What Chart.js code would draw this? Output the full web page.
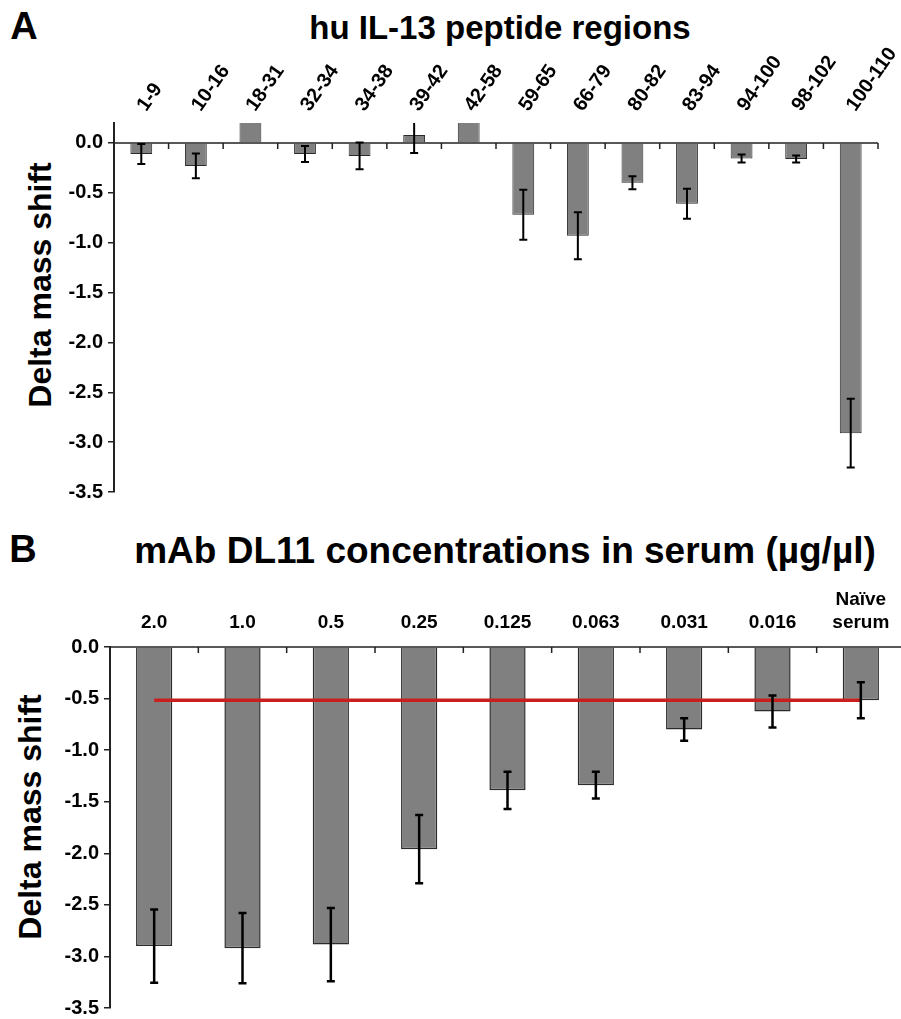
<!DOCTYPE html>
<html>
<head>
<meta charset="utf-8">
<script src="https://cdn.jsdelivr.net/npm/chart.js@4.4.1/dist/chart.umd.min.js"></script>
<style>
body { margin: 0; width: 901px; height: 1019px; overflow: hidden; background: #fff; position: relative;
       font-family: "Liberation Sans", Arial, sans-serif; }
.lbl { position: absolute; font-weight: bold; color: #000; white-space: nowrap; transform: translate(-50%, -50%); }
.rot { transform: translate(-50%, -50%) rotate(-90deg); }
canvas { position: absolute; left: 0; }
</style>
</head>
<body>
<div class="lbl" style="left:24px;top:26px;font-size:38px">A</div>
<div class="lbl" style="left:500px;top:28px;font-size:33px">hu IL-13 peptide regions</div>
<div class="lbl rot" style="left:40px;top:285px;font-size:32px">Delta mass shift</div>
<canvas id="chartA" width="901" height="466" style="top:40px"></canvas>

<div class="lbl" style="left:23px;top:549px;font-size:38px">B</div>
<div class="lbl" style="left:505px;top:551px;font-size:37px">mAb DL11 concentrations in serum (µg/µl)</div>
<div class="lbl rot" style="left:30px;top:817px;font-size:32px">Delta mass shift</div>
<canvas id="chartB" width="906" height="459" style="top:560px"></canvas>

<script>
// panel A - peptide regions
const peptideRegions = ['1-9', '10-16', '18-31', '32-34', '34-38', '39-42', '42-58',
                        '59-65', '66-79', '80-82', '83-94', '94-100', '98-102', '100-110'];
const peptideShift = [-0.11, -0.23, 0.3, -0.11, -0.13, 0.08, 0.3,
                      -0.72, -0.93, -0.40, -0.61, -0.155, -0.16, -2.91];
const peptideError = [0.10, 0.125, 0, 0.08, 0.135, 0.18, 0,
                      0.25, 0.235, 0.065, 0.15, 0.04, 0.035, 0.345];

// panel B - mAb concentrations
const concLabels = ['2.0', '1.0', '0.5', '0.25', '0.125', '0.063', '0.031', '0.016', ['Naïve', 'serum']];
const concShift = [-2.90, -2.92, -2.885, -1.96, -1.39, -1.34, -0.80, -0.626, -0.516];
const concError = [0.355, 0.34, 0.355, 0.33, 0.18, 0.13, 0.11, 0.155, 0.175];
const naiveLevel = concShift[concShift.length - 1];

const yTicks = [0, -0.5, -1.0, -1.5, -2.0, -2.5, -3.0, -3.5];

Chart.defaults.font.family = '"Liberation Sans", Arial, sans-serif';
Chart.defaults.color = '#000';

const errorBars = {
    id: 'errorBars',
    afterDatasetsDraw(chart) {
        const {ctx, chartArea} = chart;
        chart.data.datasets.forEach((ds, di) => {
            if (!ds.errors) return;
            const meta = chart.getDatasetMeta(di);
            const yScale = chart.scales[meta.yAxisID];
            ctx.save();
            ctx.beginPath();
            ctx.rect(chartArea.left, chartArea.top, chartArea.width, chartArea.height);
            ctx.clip();
            ctx.strokeStyle = '#000';
            ctx.lineWidth = ds.errorWidth;
            meta.data.forEach((bar, i) => {
                const e = ds.errors[i];
                if (!e) return;
                const v = ds.data[i];
                const yTop = yScale.getPixelForValue(v + e);
                const yBot = yScale.getPixelForValue(v - e);
                ctx.beginPath();
                ctx.moveTo(bar.x, yTop); ctx.lineTo(bar.x, yBot);
                ctx.moveTo(bar.x - 4, yTop); ctx.lineTo(bar.x + 4, yTop);
                ctx.moveTo(bar.x - 4, yBot); ctx.lineTo(bar.x + 4, yBot);
                ctx.stroke();
            });
            ctx.restore();
        });
    }
};

// x axis line drawn at zero, with small ticks between categories
const zeroAxis = {
    id: 'zeroAxis',
    afterDatasetsDraw(chart) {
        const {ctx, chartArea, scales: {x, y}} = chart;
        const y0 = y.getPixelForValue(0);
        ctx.save();
        ctx.strokeStyle = '#222';
        ctx.lineWidth = 1.5;
        ctx.beginPath();
        ctx.moveTo(chartArea.left, y0);
        ctx.lineTo(chartArea.right, y0);
        for (let i = 0; i < x.ticks.length; i++) {
            const bx = x.getPixelForValue(i + 0.5);
            ctx.moveTo(bx, y0);
            ctx.lineTo(bx, y0 + 6);
        }
        ctx.stroke();
        ctx.restore();
    }
};

function make_chart(element_id, labels, values, errors, cfg) {
    const datasets = [{
        type: 'bar',
        data: values,
        errors: errors,
        errorWidth: cfg.errorWidth,
        backgroundColor: '#808080',
        borderColor: '#2b2b2b',
        borderWidth: cfg.barBorder,
        barPercentage: cfg.barPct,
        categoryPercentage: 1,
        order: 2
    }];
    if (cfg.refLine !== undefined) {
        datasets.push({
            type: 'line',
            data: labels.map(() => cfg.refLine),
            borderColor: '#c8201f',
            borderWidth: 3.5,
            pointRadius: 0,
            fill: false,
            order: 1
        });
    }

    new Chart(document.getElementById(element_id), {
        data: {labels: labels, datasets: datasets},
        options: {
            responsive: false,
            animation: false,
            devicePixelRatio: 1,
            layout: {padding: cfg.padding},
            plugins: {legend: {display: false}, tooltip: {enabled: false}},
            scales: {
                x: {
                    position: 'top',
                    afterFit: s => { s.height = cfg.xHeight; s.paddingLeft = 0; s.paddingRight = 0; },
                    grid: {display: false, drawTicks: false},
                    border: {display: false},
                    ticks: {
                        autoSkip: false,
                        minRotation: cfg.rotation,
                        maxRotation: cfg.rotation,
                        padding: cfg.labelPad,
                        labelOffset: cfg.labelShift,
                        font: {size: cfg.xFont, weight: 'bold'},
                        color: '#000'
                    }
                },
                y: {
                    min: -3.5,
                    max: cfg.yMax,
                    afterBuildTicks: s => { s.ticks = yTicks.map(v => ({value: v})); },
                    afterFit: s => { s.width = cfg.yWidth; s.paddingTop = 0; s.paddingBottom = 0; },
                    grid: {drawOnChartArea: false, drawTicks: true, tickLength: 6, color: '#222', lineWidth: 1.5},
                    border: {display: true, color: '#222', width: 2},
                    ticks: {
                        padding: 5,
                        font: {size: 20, weight: 'bold'},
                        color: '#000',
                        callback: v => v.toFixed(1)
                    }
                }
            }
        },
        plugins: [zeroAxis, errorBars]
    });
}

make_chart('chartA', peptideRegions, peptideShift, peptideError, {
    yMax: 0.2, rotation: 55, labelPad: 7, labelShift: 20, xHeight: 83, yWidth: 114, xFont: 20,
    padding: {left: 0, right: 23, top: 0, bottom: 14},
    barPct: 0.4, barBorder: 1, errorWidth: 2
});

make_chart('chartB', concLabels, concShift, concError, {
    yMax: 0, rotation: 0, labelPad: 13, labelShift: 0, xHeight: 87, yWidth: 110, xFont: 19,
    padding: {left: 0, right: 1, top: 0, bottom: 11},
    barPct: 0.41, barBorder: 1.5, errorWidth: 2.5, refLine: naiveLevel
});
</script>
</body>
</html>
